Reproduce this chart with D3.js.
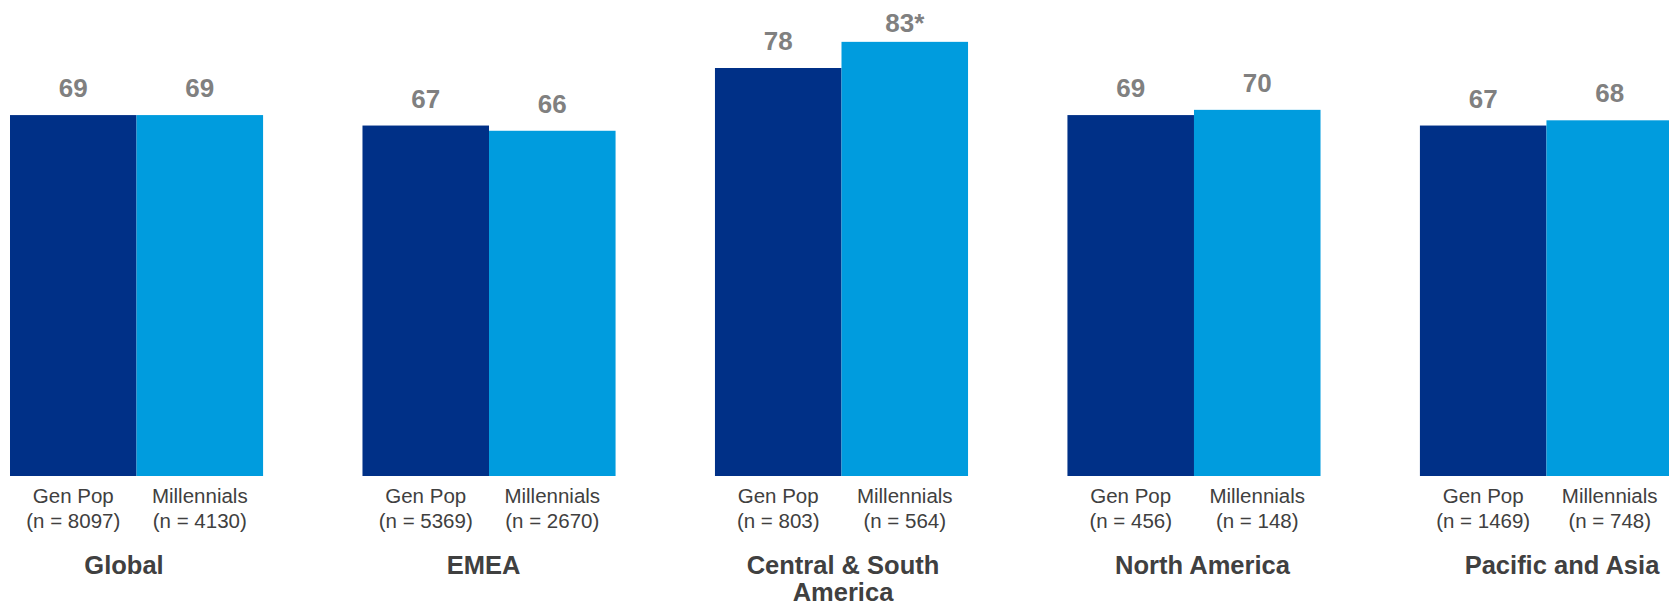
<!DOCTYPE html>
<html>
<head>
<meta charset="utf-8">
<script src="https://cdn.jsdelivr.net/npm/d3@7"></script>
<style>
  body { margin: 0; background: #fff; }
  svg { display: block; font-family: Arial, "Liberation Sans", sans-serif; }
</style>
</head>
<body>
<svg id="chart"></svg>
<script>
// data
const regions = ["Global", "EMEA", "Central & South America", "North America", "Pacific and Asia"];
const regionLines = [["Global"], ["EMEA"], ["Central & South", "America"], ["North America"], ["Pacific and Asia"]];
const series = ["Gen Pop", "Millennials"];
const genPop = [69, 67, 78, 69, 67];
const millennials = [69, 66, 83, 70, 68];
const valueLabels = [["69", "69"], ["67", "66"], ["78", "83*"], ["69", "70"], ["67", "68"]];
const genPopN = [8097, 5369, 803, 456, 1469];
const millennialsN = [4130, 2670, 564, 148, 748];

const width = 1669, height = 607;
const baseY = 476;
const colors = { "Gen Pop": "#003087", "Millennials": "#009CDE" };

const svg = d3.select("#chart").attr("width", width).attr("height", height);

const x0 = d3.scaleBand().domain(regions).range([10, 1673]).paddingInner(0.282).paddingOuter(0);
const x1 = d3.scaleBand().domain(series).range([0, x0.bandwidth()]).padding(0);
const y = d3.scaleLinear().domain([0, 91]).range([baseY, 0]);
// group titles sit on their own evenly spaced positions
const xt = d3.scalePoint().domain(regions).range([124, 1562]);

const rows = regions.map((r, i) => ({
    region: r,
    bars: [
        { s: "Gen Pop", v: genPop[i], label: valueLabels[i][0], n: genPopN[i] },
        { s: "Millennials", v: millennials[i], label: valueLabels[i][1], n: millennialsN[i] }
    ]
}));

const groups = svg.selectAll("g.group")
    .data(rows)
    .join("g")
    .attr("class", "group")
    .attr("transform", d => `translate(${x0(d.region)},0)`);

groups.selectAll("rect")
    .data(d => d.bars)
    .join("rect")
    .attr("x", d => x1(d.s))
    .attr("y", d => y(d.v))
    .attr("width", x1.bandwidth())
    .attr("height", d => baseY - y(d.v))
    .attr("fill", d => colors[d.s]);

groups.selectAll("text.value")
    .data(d => d.bars)
    .join("text")
    .attr("class", "value")
    .attr("x", d => x1(d.s) + x1.bandwidth() / 2)
    .attr("y", d => Math.max(y(d.v) - 18, 32))
    .attr("text-anchor", "middle")
    .attr("font-size", "26px")
    .attr("font-weight", "bold")
    .attr("fill", "#808080")
    .text(d => d.label);

const cat = groups.selectAll("text.cat")
    .data(d => d.bars)
    .join("text")
    .attr("class", "cat")
    .attr("text-anchor", "middle")
    .attr("font-size", "20.5px")
    .attr("fill", "#404040");

cat.append("tspan")
    .attr("x", d => x1(d.s) + x1.bandwidth() / 2)
    .attr("y", 503)
    .text(d => d.s);

cat.append("tspan")
    .attr("x", d => x1(d.s) + x1.bandwidth() / 2)
    .attr("y", 528)
    .text(d => `(n = ${d.n})`);

const titles = svg.selectAll("text.title")
    .data(regions)
    .join("text")
    .attr("class", "title")
    .attr("text-anchor", "middle")
    .attr("font-size", "25.5px")
    .attr("font-weight", "bold")
    .attr("fill", "#404040");

titles.selectAll("tspan")
    .data((d, i) => regionLines[i].map(t => ({ t, r: d })))
    .join("tspan")
    .attr("x", d => xt(d.r))
    .attr("y", (d, j) => 574 + j * 27)
    .text(d => d.t);
</script>
</body>
</html>
